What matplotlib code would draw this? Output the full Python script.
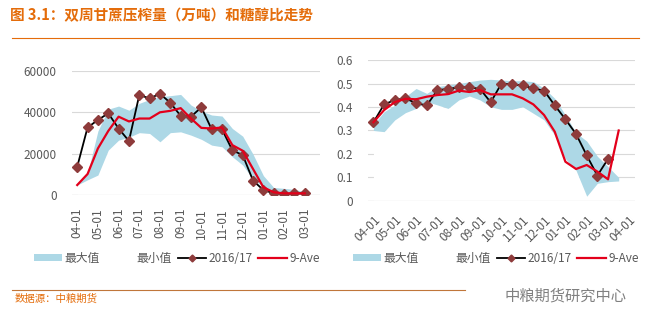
import matplotlib
matplotlib.use("Agg")
import matplotlib.pyplot as plt
from matplotlib.patches import Patch
from matplotlib.lines import Line2D
import numpy as np

plt.rcParams['font.family'] = ['Noto Sans CJK SC', 'DejaVu Sans']

# ---- data: cane crushed (left) ----
cane_labels = ['04-01', '05-01', '06-01', '07-01', '08-01', '09-01',
               '10-01', '11-01', '12-01', '01-01', '02-01', '03-01']
cane_1617 = [13800, 32700, 36300, 39500, 32200, 26200, 48300, 46700, 48900,
             44600, 38300, 37900, 42400, 31800, 31800, 21700, 19400, 7100,
             2600, 1000, 500, 1000, 1000]
cane_ave = [5000, 10300, 22600, 31000, 37900, 35600, 37000, 37000, 40000,
            40700, 42000, 37000, 32500, 32200, 32700, 24200, 21500, 12700,
            3900, 1500, 1000, 1000, 1000]
cane_max = [6000, 10600, 31000, 41500, 43000, 41000, 44300, 46200, 47500,
            48000, 48600, 43500, 40600, 38700, 38200, 32200, 28500, 19800,
            9500, 3800, 3400, 2900, 1800]
cane_min = [5000, 7500, 9800, 21800, 26600, 28000, 30200, 29800, 25800,
            30200, 30600, 29000, 27000, 24200, 23400, 18600, 14600, 7800,
            4000, 1800, 1000, 600, 600]

# ---- data: sugar ratio (right) ----
ratio_labels = ['04-01', '05-01', '06-01', '07-01', '08-01', '09-01', '10-01',
                '11-01', '12-01', '01-01', '02-01', '03-01', '04-01']
ratio_1617 = [0.335, 0.411, 0.43, 0.437, 0.416, 0.407, 0.472, 0.477, 0.484,
              0.484, 0.477, 0.42, 0.5, 0.496, 0.492, 0.479, 0.47, 0.407,
              0.348, 0.285, 0.194, 0.108, 0.179]
ratio_ave = [0.335, 0.387, 0.421, 0.435, 0.433, 0.444, 0.451, 0.455, 0.47,
             0.464, 0.472, 0.454, 0.454, 0.454, 0.437, 0.411, 0.366, 0.295,
             0.167, 0.136, 0.153, 0.125, 0.092, 0.3]
ratio_max = [0.325, 0.38, 0.408, 0.444, 0.479, 0.458, 0.487, 0.494, 0.5,
             0.508, 0.515, 0.518, 0.515, 0.512, 0.512, 0.508, 0.48, 0.437,
             0.366, 0.29, 0.255, 0.19, 0.146, 0.1]
ratio_min = [0.3, 0.295, 0.345, 0.376, 0.394, 0.423, 0.409, 0.394, 0.43,
             0.447, 0.43, 0.401, 0.39, 0.39, 0.401, 0.373, 0.345, 0.28,
             0.18, 0.13, 0.02, 0.075, 0.082, 0.085]

legend_names = ['最大值', '最小值', '2016/17', '9-Ave']

# colours
band_c = '#ADD8E6'
mark_c = '#8E3B3B'
red_c = '#E3001B'
grid_c = '#D9D9D9'
text_c = '#595959'
orange = '#E46C0A'

fig = plt.figure(figsize=(6.55, 3.23), dpi=100)


def draw_panel(ax, n_cat, s_1617, s_ave, s_max, s_min, labels, ymax, ystep, rot):
    x1 = np.arange(len(s_1617))
    xb = np.arange(len(s_max))
    xa = np.arange(len(s_ave))
    # excel-like stacked area: white min area hides grid lines
    ax.fill_between(xb, 0, s_min, color='white', lw=0, zorder=2)
    ax.fill_between(xb, s_min, s_max, color=band_c, lw=0, zorder=2)
    ax.plot(x1, s_1617, color='black', lw=1.3, marker='D', ms=5.5,
            mfc=mark_c, mec=mark_c, zorder=4)
    ax.plot(xa, s_ave, color=red_c, lw=1.6, zorder=5)
    ax.axhline(0, color=grid_c, lw=0.9, zorder=3)
    ax.set_xlim(-0.5, n_cat - 0.5)
    ax.set_ylim(0, ymax)
    yt = np.arange(0, ymax + ystep / 2, ystep)
    ax.set_yticks(yt)
    if ystep < 1:
        ax.set_yticklabels(['0'] + ['%.1f' % v for v in yt[1:]])
    else:
        ax.set_yticklabels(['%d' % v for v in yt])
    ax.set_xticks(np.arange(0, 2 * len(labels), 2))
    if rot == 90:
        ax.set_xticklabels(labels, rotation=90)
    else:
        ax.set_xticklabels(labels, rotation=45, ha='right', rotation_mode='anchor')
    ax.grid(axis='y', color=grid_c, lw=0.8, zorder=0)
    ax.set_axisbelow(True)
    for s in ax.spines.values():
        s.set_visible(False)
    ax.tick_params(length=0, labelsize=8.5, labelcolor=text_c)
    ax.tick_params(axis='y', pad=11)
    ax.tick_params(axis='x', pad=9)


def add_legend(cx):
    handles = [Patch(facecolor=band_c, edgecolor='none'),
               Patch(facecolor='none', edgecolor='none'),
               Line2D([], [], color='black', lw=1.3, marker='D', ms=3.5,
                      mfc=mark_c, mec=mark_c),
               Line2D([], [], color=red_c, lw=1.6)]
    leg = fig.legend(handles, legend_names, loc='center', ncol=4,
                     bbox_to_anchor=(cx, 0.201), frameon=False, fontsize=8.5,
                     handlelength=2.4, handleheight=0.6, handletextpad=0.2,
                     columnspacing=0.5)
    for t in leg.get_texts():
        t.set_color(text_c)


ax1 = fig.add_axes([0.110, 0.395, 0.379, 0.386])
draw_panel(ax1, 24, cane_1617, cane_ave, cane_max, cane_min,
           cane_labels, 60000, 20000, 90)
add_legend(0.270)

ax2 = fig.add_axes([0.562, 0.378, 0.407, 0.436])
draw_panel(ax2, 25, ratio_1617, ratio_ave, ratio_max, ratio_min,
           ratio_labels, 0.6, 0.1, 45)
add_legend(0.757)

# header / footer
fig.text(0.015, 0.953, '图 3.1：双周甘蔗压榨量（万吨）和糖醇比走势',
         fontsize=10.5, fontweight='bold', color=orange, va='center')
fig.add_artist(Line2D([0.018, 0.975], [0.882, 0.882], color=orange, lw=0.8))
fig.add_artist(Line2D([0.018, 0.71], [0.101, 0.101], color='#C0763A', lw=0.8))
fig.text(0.022, 0.077, '数据源：中粮期货', fontsize=7.5, style='italic',
         color=orange, va='center')
fig.text(0.771, 0.085, '中粮期货研究中心', fontsize=11, color='#808080',
         va='center')

fig.savefig('out.png', dpi=100)
